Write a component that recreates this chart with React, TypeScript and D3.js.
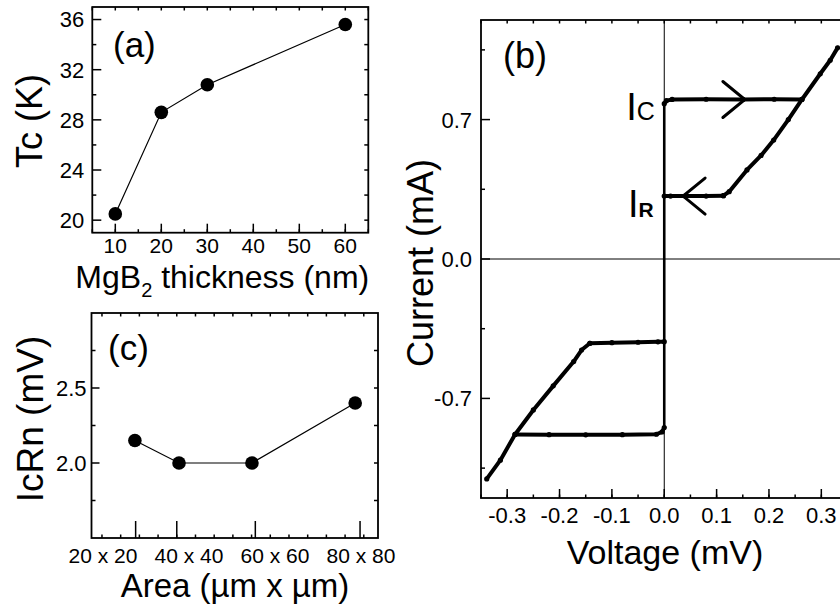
import { useEffect, useRef } from 'react';
import * as d3 from 'd3';

const WIDTH = 840;
const HEIGHT = 610;
const FONT = '"Liberation Sans", Arial, Helvetica, sans-serif';

// (a) Tc against MgB2 thickness
const thicknessNm = [10, 20, 30, 60];
const tcKelvin = [20.5, 28.6, 30.8, 35.6];
const thicknessTicks = [10, 20, 30, 40, 50, 60];
const tcTicks = [20, 24, 28, 32, 36];
const tcMinorTicks = [22, 26, 30, 34];

// (c) IcRn against junction area (x axis is linear in area, um^2)
const areaLabels = ['20 x 20', '40 x 40', '60 x 60', '80 x 80'];
const areaTickValues = [400, 1500, 3600, 6400];
const junctionArea = [380, 1560, 3510, 6270];
const icRnMv = [2.15, 2.0, 2.0, 2.4];
const icRnTicks = [2.0, 2.5];
const icRnMinorTicks = [1.75, 2.25, 2.75];

// (b) I-V curve, [voltage mV, current mA]
const voltageTicks = [-0.3, -0.2, -0.1, 0, 0.1, 0.2, 0.3];
const currentTicks = [-0.7, 0, 0.7];
const currentMinorTicks = [-1.05, -0.35, 0.35, 1.05];
const supercurrentBranch: [number, number][] = [[0, -0.846], [0, 0.78]];
const switchPositive: [number, number][] = [
  [0, 0.78], [0.004, 0.795], [0.015, 0.801], [0.08, 0.802], [0.15, 0.801], [0.21, 0.802], [0.263, 0.801],
];
const resistivePositive: [number, number][] = [
  [0.113, 0.318], [0.124, 0.338], [0.158, 0.447], [0.185, 0.52], [0.209, 0.597], [0.237, 0.7], [0.263, 0.801], [0.298, 0.93], [0.317, 0.998], [0.331, 1.06],
];
const retrapPositive: [number, number][] = [
  [0.113, 0.318], [0.08, 0.316], [0.04, 0.316], [0.012, 0.316], [0, 0.316],
];
const switchNegative: [number, number][] = [
  [0, -0.846], [-0.004, -0.868], [-0.015, -0.88], [-0.08, -0.882], [-0.15, -0.883], [-0.22, -0.882], [-0.285, -0.881],
];
const resistiveNegative: [number, number][] = [
  [-0.142, -0.423], [-0.158, -0.457], [-0.173, -0.515], [-0.212, -0.637], [-0.25, -0.758], [-0.285, -0.881], [-0.313, -1.01], [-0.339, -1.104],
];
const retrapNegative: [number, number][] = [
  [-0.142, -0.423], [-0.1, -0.42], [-0.05, -0.418], [-0.012, -0.416], [0, -0.415],
];

type Sel = d3.Selection<SVGGElement, unknown, null, undefined>;
type Box = { left: number; right: number; top: number; bottom: number };

const BOX_A: Box = { left: 92.3, right: 368.3, top: 7, bottom: 232.7 };
const BOX_C: Box = { left: 91.5, right: 378, top: 313, bottom: 538 };
const BOX_B: Box = { left: 481, right: 847.5, top: 20, bottom: 498 };

// vertical tick marks along a horizontal edge (len < 0 points up)
function xTicks(g: Sel, x: (v: number) => number, values: number[], y: number, len: number, w = 1.5) {
  g.append('g')
    .selectAll('line')
    .data(values)
    .join('line')
    .attr('x1', d => x(d))
    .attr('x2', d => x(d))
    .attr('y1', y)
    .attr('y2', y + len)
    .attr('stroke', '#000')
    .attr('stroke-width', w);
}

function yTicks(g: Sel, y: (v: number) => number, values: number[], x: number, len: number, w = 1.5) {
  g.append('g')
    .selectAll('line')
    .data(values)
    .join('line')
    .attr('y1', d => y(d))
    .attr('y2', d => y(d))
    .attr('x1', x)
    .attr('x2', x + len)
    .attr('stroke', '#000')
    .attr('stroke-width', w);
}

function frame(g: Sel, b: Box) {
  g.append('rect')
    .attr('x', b.left)
    .attr('y', b.top)
    .attr('width', b.right - b.left)
    .attr('height', b.bottom - b.top)
    .attr('fill', 'none')
    .attr('stroke', '#000')
    .attr('stroke-width', 1.8);
}

function label(g: Sel, text: string, x: number, y: number, size: number, anchor = 'middle') {
  return g.append('text')
    .attr('x', x)
    .attr('y', y)
    .attr('text-anchor', anchor)
    .style('font-family', FONT)
    .style('font-size', `${size}px`)
    .style('fill', '#000')
    .text(text);
}

function rotatedLabel(g: Sel, text: string, x: number, y: number, size: number) {
  return g.append('text')
    .attr('transform', `translate(${x},${y}) rotate(-90)`)
    .attr('text-anchor', 'middle')
    .style('font-family', FONT)
    .style('font-size', `${size}px`)
    .text(text);
}

function steps(from: number, to: number, step: number) {
  return d3.range(Math.round((to - from) / step) + 1).map(i => from + i * step);
}

export default function App() {
  const svgRef = useRef<SVGSVGElement>(null);

  useEffect(() => {
    if (!svgRef.current) return;
    const svg = d3.select(svgRef.current);
    svg.selectAll('*').remove();
    const root = svg.append('g') as Sel;

    // ---------- (a) ----------
    const a = root.append('g') as Sel;
    const xA = d3.scaleLinear().domain([5, 65]).range([BOX_A.left, BOX_A.right]);
    const yA = d3.scaleLinear().domain([19, 37]).range([BOX_A.bottom, BOX_A.top]);
    frame(a, BOX_A);
    xTicks(a, xA, thicknessTicks, BOX_A.bottom, -9);
    xTicks(a, xA, steps(5, 65, 5), BOX_A.bottom, -3.5);
    xTicks(a, xA, steps(5, 65, 5), BOX_A.top, 3.5);
    yTicks(a, yA, tcTicks, BOX_A.left, 9);
    yTicks(a, yA, tcMinorTicks, BOX_A.left, 4);
    yTicks(a, yA, steps(20, 36, 2), BOX_A.right, -4);

    a.append('path')
      .datum(thicknessNm.map((t, i) => [t, tcKelvin[i]] as [number, number]))
      .attr('d', d3.line<[number, number]>().x(d => xA(d[0])).y(d => yA(d[1])))
      .attr('fill', 'none')
      .attr('stroke', '#000')
      .attr('stroke-width', 1.2);
    a.selectAll('circle')
      .data(thicknessNm)
      .join('circle')
      .attr('cx', d => xA(d))
      .attr('cy', (_, i) => yA(tcKelvin[i]))
      .attr('r', 6.8)
      .attr('fill', '#000');

    tcTicks.forEach(v => label(a, String(v), BOX_A.left - 8, yA(v), 22, 'end').attr('dy', '0.36em'));
    thicknessTicks.forEach(v => label(a, String(v), xA(v), 253, 21));
    const titleA = label(a, '', (BOX_A.left + BOX_A.right) / 2 - 8, 288, 32);
    titleA.append('tspan').text('MgB');
    titleA.append('tspan').attr('dy', 9).style('font-size', '20px').text('2');
    titleA.append('tspan').attr('dy', -9).text(' thickness (nm)');
    rotatedLabel(a, 'Tc (K)', 42, 121, 36);
    label(a, '(a)', 113, 57, 35, 'start');

    // ---------- (c) ----------
    const c = root.append('g') as Sel;
    const xC = d3.scaleLinear().domain([-780, 6880]).range([BOX_C.left, BOX_C.right]);
    const yC = d3.scaleLinear().domain([1.5, 3.0]).range([BOX_C.bottom, BOX_C.top]);
    frame(c, BOX_C);
    xTicks(c, xC, areaTickValues, BOX_C.bottom, -17);
    xTicks(c, xC, steps(-500, 6500, 500), BOX_C.bottom, -3.5);
    xTicks(c, xC, steps(-500, 6500, 500), BOX_C.top, 3.5);
    yTicks(c, yC, icRnTicks, BOX_C.left, 8);
    yTicks(c, yC, icRnMinorTicks, BOX_C.left, 4);
    yTicks(c, yC, steps(1.75, 2.75, 0.25), BOX_C.right, -4);

    c.append('path')
      .datum(junctionArea.map((s, i) => [s, icRnMv[i]] as [number, number]))
      .attr('d', d3.line<[number, number]>().x(d => xC(d[0])).y(d => yC(d[1])))
      .attr('fill', 'none')
      .attr('stroke', '#000')
      .attr('stroke-width', 1.2);
    c.selectAll('circle')
      .data(junctionArea)
      .join('circle')
      .attr('cx', d => xC(d))
      .attr('cy', (_, i) => yC(icRnMv[i]))
      .attr('r', 6.8)
      .attr('fill', '#000');

    icRnTicks.forEach(v => label(c, v.toFixed(1), BOX_C.left - 5, yC(v), 22, 'end').attr('dy', '0.36em'));
    const areaLabelPos = d3.scalePoint<string>().domain(areaLabels).range([103, 361]);
    areaLabels.forEach(s => label(c, s, areaLabelPos(s)!, 563, 21));
    label(c, 'Area (µm x µm)', 235, 597, 33);
    rotatedLabel(c, 'IcRn (mV)', 43, 419, 37);
    label(c, '(c)', 108, 360, 35, 'start');

    // ---------- (b) ----------
    const b = root.append('g') as Sel;
    const xB = d3.scaleLinear().domain([-0.35, 0.35]).range([BOX_B.left, BOX_B.right]);
    const yB = d3.scaleLinear().domain([-1.2, 1.2]).range([BOX_B.bottom, BOX_B.top]);
    frame(b, BOX_B);
    xTicks(b, xB, voltageTicks, BOX_B.bottom, -9);
    xTicks(b, xB, steps(-0.35, 0.35, 0.05), BOX_B.bottom, -3.5);
    xTicks(b, xB, steps(-0.35, 0.35, 0.05), BOX_B.top, 3.5);
    yTicks(b, yB, currentTicks, BOX_B.left, 9);
    yTicks(b, yB, currentMinorTicks, BOX_B.left, 4);

    // zero lines
    b.append('line')
      .attr('x1', xB(0)).attr('x2', xB(0))
      .attr('y1', BOX_B.top).attr('y2', BOX_B.bottom)
      .attr('stroke', '#000').attr('stroke-width', 1);
    b.append('line')
      .attr('x1', BOX_B.left).attr('x2', BOX_B.right)
      .attr('y1', yB(0)).attr('y2', yB(0))
      .attr('stroke', '#000').attr('stroke-width', 1);

    const ivLine = d3.line<[number, number]>().x(d => xB(d[0])).y(d => yB(d[1]));
    b.append('path')
      .datum(supercurrentBranch)
      .attr('d', ivLine)
      .attr('fill', 'none')
      .attr('stroke', '#000')
      .attr('stroke-width', 2.6);
    const branches = [switchPositive, resistivePositive, retrapPositive, switchNegative, resistiveNegative, retrapNegative];
    branches.forEach(br => {
      b.append('path')
        .datum(br)
        .attr('d', ivLine)
        .attr('fill', 'none')
        .attr('stroke', '#000')
        .attr('stroke-width', 4)
        .attr('stroke-linejoin', 'round')
        .attr('stroke-linecap', 'round');
      b.append('g')
        .selectAll('circle')
        .data(br)
        .join('circle')
        .attr('cx', d => xB(d[0]))
        .attr('cy', d => yB(d[1]))
        .attr('r', 2.6)
        .attr('fill', '#000');
    });

    // sweep direction chevrons
    const chevron = (v: number, i: number, dir: number) => {
      const tx = xB(v);
      const ty = yB(i);
      b.append('path')
        .attr('d', `M${tx - dir * 22},${ty - 18}L${tx},${ty}L${tx - dir * 22},${ty + 18}`)
        .attr('fill', 'none')
        .attr('stroke', '#000')
        .attr('stroke-width', 3)
        .attr('stroke-linecap', 'round');
    };
    chevron(0.154, 0.801, 1);
    chevron(0.036, 0.316, -1);

    const ic = label(b, '', xB(-0.018), yB(0.70), 38, 'end');
    ic.append('tspan').text('I');
    ic.append('tspan').style('font-size', '25px').text('C');
    const ir = label(b, '', xB(-0.02), yB(0.21), 38, 'end');
    ir.append('tspan').text('I');
    ir.append('tspan').style('font-size', '21px').style('font-weight', 'bold').text('R');

    currentTicks.forEach(v => label(b, v.toFixed(1), BOX_B.left - 9, yB(v), 22, 'end').attr('dy', '0.36em'));
    voltageTicks.forEach(v => label(b, v.toFixed(1), xB(v), 523, 22));
    label(b, 'Voltage (mV)', 665, 564, 34);
    rotatedLabel(b, 'Current (mA)', 433, 263, 36);
    label(b, '(b)', 503, 68, 36, 'start');
  }, []);

  return (
    <svg
      ref={svgRef}
      width={WIDTH}
      height={HEIGHT}
      style={{ position: 'absolute', left: 0, top: 0, background: '#fff' }}
    />
  );
}
